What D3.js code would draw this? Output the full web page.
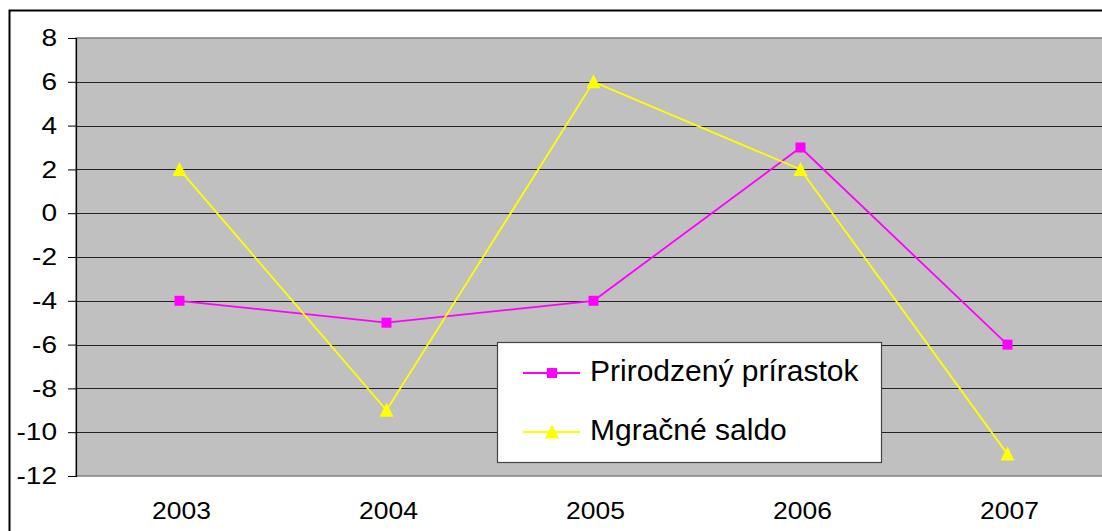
<!DOCTYPE html>
<html>
<head>
<meta charset="utf-8">
<script src="https://cdn.jsdelivr.net/npm/d3@7"></script>
<style>
  body { margin: 0; background: #fff; }
  text { font-family: "Liberation Sans", Arial, sans-serif; fill: #000; }
</style>
</head>
<body>
<svg id="chart" width="1102" height="531"></svg>
<script>
// data
const years = ["2003", "2004", "2005", "2006", "2007"];
const prirodzeny = [-4, -5, -4, 3, -6];
const migracne = [2, -9, 6, 2, -11];
const yTicks = [8, 6, 4, 2, 0, -2, -4, -6, -8, -10, -12];
const seriesNames = ["Prirodzený prírastok", "Mgračné saldo"];

const svg = d3.select("#chart");
const margin = { left: 76, top: 38 };
const plotW = 1035, plotH = 438;

// outer chart frame (cut by the window on right/bottom)
svg.append("rect")
    .attr("x", 9.5).attr("y", 10.5)
    .attr("width", 1200).attr("height", 600)
    .attr("fill", "none").attr("stroke", "#000").attr("stroke-width", 2);

const x = d3.scaleBand().domain(years).range([0, plotW]);
const y = d3.scaleLinear().domain([-12, 8]).range([plotH, 0]);
const cx = d => x(d) + x.bandwidth() / 2;

const g = svg.append("g").attr("transform", `translate(${margin.left},${margin.top})`);

g.append("rect")
    .attr("width", plotW).attr("height", plotH)
    .attr("fill", "#c0c0c0").attr("stroke", "#808080").attr("stroke-width", 1.5);

// gridlines
g.selectAll(".grid")
    .data(yTicks.filter(d => d !== 8 && d !== -12))
    .enter().append("line")
    .attr("x1", 0).attr("x2", plotW)
    .attr("y1", d => Math.round(y(d)) + 0.5).attr("y2", d => Math.round(y(d)) + 0.5)
    .attr("stroke", "#222").attr("stroke-width", 1.2);

// y axis
const yAxis = g.append("g")
    .call(d3.axisLeft(y).tickValues(yTicks).tickSize(8).tickFormat(""));
yAxis.select(".domain").attr("stroke", "#000").attr("stroke-width", 1.2);
yAxis.selectAll(".tick line").attr("stroke", "#000");

// y labels (hyphen minus, slightly wide glyphs like the original)
g.selectAll(".ylab")
    .data(yTicks)
    .enter().append("text")
    .attr("transform", d => `translate(-19,${y(d)}) scale(1.22,1)`)
    .attr("text-anchor", "end")
    .attr("dy", "0.36em")
    .style("font-size", "23px")
    .text(d => String(d));

// x labels
g.selectAll(".xlab")
    .data(years)
    .enter().append("text")
    .attr("transform", d => `translate(${cx(d) + 2},${plotH + 43}) scale(1.15,1)`)
    .attr("text-anchor", "middle")
    .style("font-size", "23px")
    .text(d => d);

const line = d3.line()
    .x((d, i) => cx(years[i]))
    .y(d => y(d));

const triPath = "M0,-7.5L7,6.5L-7,6.5Z";

// series
g.append("path").datum(prirodzeny).attr("d", line)
    .attr("fill", "none").attr("stroke", "#ff00ff").attr("stroke-width", 1.8);
g.append("path").datum(migracne).attr("d", line)
    .attr("fill", "none").attr("stroke", "#ffff00").attr("stroke-width", 1.8);

g.selectAll(".sq").data(prirodzeny).enter().append("rect")
    .attr("x", (d, i) => cx(years[i]) - 5)
    .attr("y", d => y(d) - 5)
    .attr("width", 10).attr("height", 10)
    .attr("fill", "#ff00ff");
g.selectAll(".tr").data(migracne).enter().append("path")
    .attr("d", triPath)
    .attr("transform", (d, i) => `translate(${cx(years[i])},${y(d)})`)
    .attr("fill", "#ffff00");

// legend
const leg = svg.append("g").attr("transform", "translate(497,342)");
leg.append("rect").attr("x", 0.5).attr("y", 0.5).attr("width", 384).attr("height", 120)
    .attr("fill", "#fff").attr("stroke", "#444").attr("stroke-width", 1.2);
const colors = ["#ff00ff", "#ffff00"];
seriesNames.forEach((name, i) => {
    const cy = 31 + i * 59;
    leg.append("line").attr("x1", 26).attr("x2", 83).attr("y1", cy).attr("y2", cy)
        .attr("stroke", colors[i]).attr("stroke-width", 1.8);
    if (i === 0) {
        leg.append("rect").attr("x", 50).attr("y", cy - 5).attr("width", 10).attr("height", 10).attr("fill", colors[i]);
    } else {
        leg.append("path").attr("d", triPath).attr("transform", `translate(55,${cy})`).attr("fill", colors[i]);
    }
    leg.append("text").attr("x", 93).attr("y", cy + 8)
        .style("font-size", "30px")
        .text(name);
});
</script>
</body>
</html>
